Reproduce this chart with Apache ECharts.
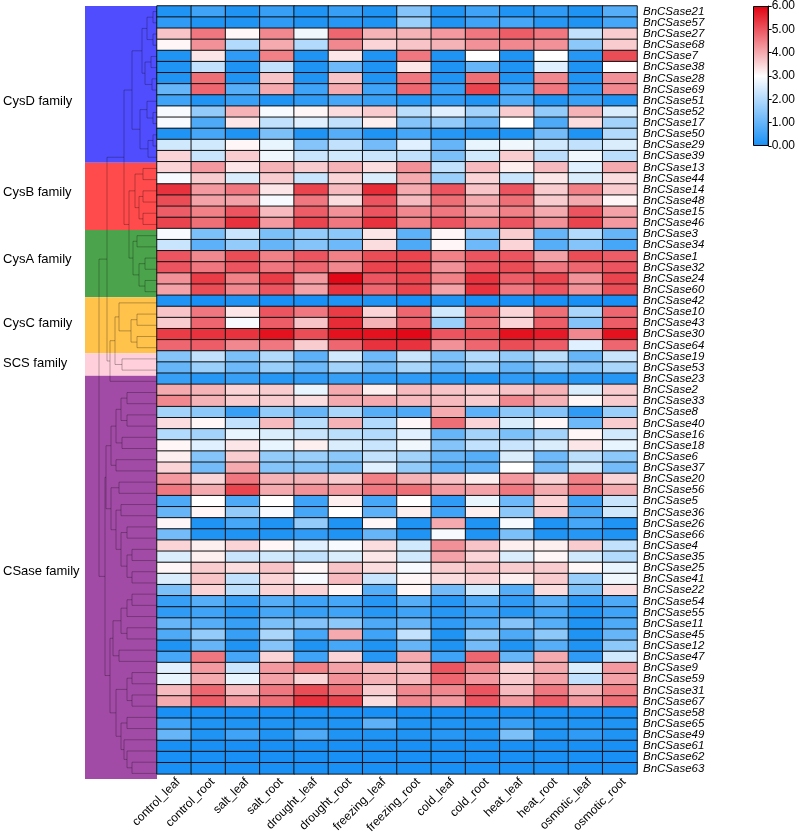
<!DOCTYPE html>
<html>
<head>
<meta charset="utf-8">
<script src="https://cdn.jsdelivr.net/npm/echarts@6/dist/echarts.min.js"></script>
<style>
  html, body { margin: 0; padding: 0; background: #fff; }
  #chart { width: 798px; height: 836px; }
</style>
</head>
<body>
<div id="chart"></div>
<script>
const conditions = [
  "control_leaf", "control_root", "salt_leaf", "salt_root", "drought_leaf", "drought_root",
  "freezing_leaf", "freezing_root", "cold_leaf", "cold_root", "heat_leaf", "heat_root",
  "osmotic_leaf", "osmotic_root"
];

// one row per gene, columns follow `conditions`
const cysDGenes = ["BnCSase21", "BnCSase57", "BnCSase27", "BnCSase68", "BnCSase7", "BnCSase38", "BnCSase28",
  "BnCSase69", "BnCSase51", "BnCSase52", "BnCSase17", "BnCSase50", "BnCSase29", "BnCSase39"];
const cysDValues = [
  [0.1, 0.5, 0.1, 0.4, 0.1, 0.4, 0.1, 1.4, 0.1, 0.5, 0.1, 0.3, 0.1, 0.8],
  [0.3, 0.1, 0.1, 0.3, 0.1, 0.2, 0.1, 1.7, 0.1, 0.5, 0.6, 0.2, 0.1, 0.6],
  [3.7, 4.6, 3.1, 4.4, 2.8, 4.8, 3.9, 3.9, 4.2, 4.6, 4.9, 4.6, 2.2, 3.6],
  [3.1, 4.3, 2.0, 4.0, 2.0, 4.4, 3.5, 3.7, 3.9, 4.3, 4.4, 4.3, 1.5, 3.6],
  [0.1, 3.3, 0.3, 4.5, 0.1, 3.3, 0.1, 4.6, 0.1, 3.0, 0.1, 3.0, 0.2, 5.1],
  [0.1, 2.2, 0.1, 2.2, 0.1, 1.1, 0.1, 3.3, 0.1, 1.0, 0.1, 2.6, 0.1, 3.0],
  [0.1, 4.7, 0.1, 3.7, 0.1, 3.7, 0.1, 4.6, 0.1, 4.7, 0.1, 4.4, 0.1, 4.3],
  [1.0, 4.8, 0.8, 4.0, 0.5, 4.0, 0.5, 4.8, 0.4, 5.2, 0.6, 4.6, 0.3, 4.4],
  [0.5, 0.1, 0.4, 0.1, 0.3, 0.6, 0.4, 0.2, 0.3, 0.1, 0.7, 0.1, 0.4, 0.1],
  [2.9, 1.6, 3.9, 2.9, 3.1, 3.4, 3.6, 2.1, 2.6, 1.8, 3.6, 1.6, 3.9, 2.5],
  [2.9, 0.7, 3.3, 2.2, 2.6, 2.2, 3.2, 1.4, 1.6, 1.0, 3.0, 0.7, 3.4, 1.8],
  [0.1, 0.6, 0.1, 1.3, 0.1, 0.8, 0.1, 0.6, 0.2, 0.1, 0.1, 1.2, 0.1, 2.0],
  [2.4, 2.4, 3.1, 2.7, 1.4, 2.2, 1.2, 2.6, 1.0, 2.7, 2.8, 2.4, 2.2, 2.5],
  [3.5, 2.3, 3.6, 2.8, 2.3, 2.4, 2.3, 2.2, 1.3, 2.4, 3.6, 2.1, 2.8, 2.1]
];

const cysBGenes = ["BnCSase13", "BnCSase44", "BnCSase14", "BnCSase48", "BnCSase15", "BnCSase46"];
const cysBValues = [
  [3.5, 4.2, 3.3, 3.9, 3.6, 3.9, 3.4, 4.3, 2.2, 3.8, 3.2, 3.8, 2.6, 4.0],
  [2.9, 3.6, 2.5, 3.6, 2.3, 3.5, 2.5, 4.0, 1.7, 3.5, 2.3, 3.3, 2.5, 3.4],
  [5.4, 4.2, 4.6, 3.3, 5.2, 3.8, 5.5, 4.0, 5.0, 3.7, 5.0, 3.6, 4.5, 3.6],
  [5.1, 4.1, 4.1, 2.9, 4.6, 3.4, 5.0, 3.8, 4.7, 4.0, 4.7, 3.6, 4.0, 3.1],
  [4.9, 4.5, 5.0, 3.8, 4.9, 4.3, 5.0, 4.4, 4.6, 4.1, 4.5, 4.0, 5.0, 4.1],
  [5.2, 4.7, 5.4, 4.2, 5.2, 4.6, 5.4, 4.5, 5.0, 4.5, 5.0, 4.3, 5.2, 4.2]
];

const cysAGenes = ["BnCSase3", "BnCSase34", "BnCSase1", "BnCSase32", "BnCSase24", "BnCSase60"];
const cysAValues = [
  [2.9, 1.3, 2.3, 1.3, 1.6, 1.5, 3.3, 0.9, 3.1, 1.5, 3.6, 1.0, 2.0, 1.0],
  [2.3, 0.9, 1.6, 1.0, 1.4, 1.1, 3.4, 0.7, 3.1, 1.1, 3.5, 0.8, 1.4, 0.6],
  [5.0, 4.4, 5.1, 4.5, 5.0, 4.5, 5.1, 5.2, 4.5, 5.0, 5.0, 4.1, 5.1, 4.9],
  [5.0, 4.6, 5.0, 4.6, 4.8, 4.4, 5.2, 5.2, 4.3, 5.0, 5.1, 4.6, 4.8, 5.0],
  [4.3, 5.3, 4.5, 5.3, 4.2, 5.9, 5.0, 5.2, 4.5, 5.4, 4.9, 5.2, 4.3, 5.2],
  [4.1, 5.1, 4.4, 5.0, 4.1, 5.4, 4.8, 5.2, 4.1, 5.4, 4.6, 5.0, 4.3, 5.1]
];

const cysCGenes = ["BnCSase42", "BnCSase10", "BnCSase43", "BnCSase30", "BnCSase64"];
const cysCValues = [
  [0.1, 0.0, 0.1, 0.0, 0.0, 0.1, 0.1, 0.0, 0.1, 0.0, 0.0, 0.0, 0.0, 0.0],
  [3.7, 4.6, 3.3, 5.0, 4.6, 5.3, 3.5, 4.8, 2.4, 4.7, 3.5, 4.7, 1.9, 4.8],
  [3.6, 4.8, 2.9, 4.9, 3.7, 5.5, 3.9, 4.9, 1.7, 4.7, 3.5, 4.9, 1.4, 4.9],
  [5.3, 5.4, 5.4, 5.8, 5.1, 5.8, 5.8, 5.9, 5.0, 5.1, 5.8, 5.7, 4.4, 5.8],
  [4.8, 4.9, 4.4, 4.6, 3.6, 4.8, 5.4, 5.4, 4.3, 4.8, 5.1, 4.9, 2.6, 4.8]
];

const scsGenes = ["BnCSase19", "BnCSase53"];
const scsValues = [
  [1.4, 2.2, 1.3, 2.0, 0.9, 2.4, 1.1, 2.3, 1.3, 2.0, 1.6, 2.1, 1.0, 2.3],
  [1.0, 1.7, 1.1, 1.7, 1.1, 1.8, 1.2, 1.9, 1.1, 1.7, 1.0, 1.6, 1.5, 1.9]
];

const csaseGenes = ["BnCSase23", "BnCSase2", "BnCSase33", "BnCSase8", "BnCSase40", "BnCSase16", "BnCSase18",
  "BnCSase6", "BnCSase37", "BnCSase20", "BnCSase56", "BnCSase5", "BnCSase36", "BnCSase26", "BnCSase66",
  "BnCSase4", "BnCSase35", "BnCSase25", "BnCSase41", "BnCSase22", "BnCSase54", "BnCSase55", "BnCSase11",
  "BnCSase45", "BnCSase12", "BnCSase47", "BnCSase9", "BnCSase59", "BnCSase31", "BnCSase67", "BnCSase58",
  "BnCSase65", "BnCSase49", "BnCSase61", "BnCSase62", "BnCSase63"];
const csaseValues = [
  [0.4, 0.2, 0.4, 0.2, 0.3, 0.4, 0.3, 0.3, 0.2, 0.1, 0.3, 0.2, 0.2, 0.2],
  [4.0, 3.9, 3.5, 3.6, 2.7, 4.0, 3.2, 3.8, 3.7, 3.6, 3.7, 3.9, 2.5, 3.6],
  [4.4, 3.9, 3.6, 3.6, 3.4, 4.0, 4.0, 3.8, 3.8, 3.6, 4.4, 3.9, 3.1, 3.6],
  [1.8, 1.5, 0.4, 1.6, 1.0, 1.9, 0.8, 0.7, 4.0, 0.9, 1.5, 1.4, 0.3, 1.7],
  [3.4, 3.1, 2.2, 3.8, 2.1, 3.9, 2.0, 3.1, 4.7, 3.5, 2.5, 3.1, 1.1, 3.6],
  [2.0, 1.8, 2.7, 2.5, 2.3, 2.1, 2.0, 2.6, 1.0, 1.8, 1.3, 1.8, 3.1, 2.4],
  [3.1, 2.6, 3.3, 2.7, 3.2, 2.5, 2.3, 2.8, 1.4, 2.2, 2.3, 2.5, 3.3, 2.7],
  [3.2, 1.4, 3.6, 1.6, 1.7, 1.5, 2.2, 1.8, 1.0, 0.8, 2.5, 1.1, 2.1, 1.5],
  [3.5, 1.2, 4.0, 1.4, 1.4, 1.3, 2.6, 1.6, 0.8, 0.9, 3.0, 1.2, 2.4, 1.2],
  [4.2, 3.5, 4.6, 3.9, 3.9, 3.6, 4.5, 3.9, 3.7, 3.2, 4.2, 3.5, 4.5, 3.5],
  [4.6, 4.0, 5.2, 4.0, 4.3, 4.2, 4.6, 4.7, 4.2, 4.1, 4.6, 4.0, 4.6, 4.0],
  [0.7, 3.0, 0.7, 3.0, 0.5, 3.2, 0.6, 3.0, 0.3, 2.7, 1.1, 3.5, 0.5, 2.3],
  [1.0, 3.1, 1.6, 2.9, 0.6, 3.0, 0.9, 3.2, 0.5, 3.2, 1.5, 3.6, 0.7, 2.4],
  [3.1, 0.1, 0.6, 0.1, 1.6, 0.1, 3.1, 0.1, 4.0, 0.1, 2.9, 0.1, 0.6, 0.1],
  [1.2, 0.1, 0.1, 0.1, 0.3, 0.1, 1.0, 0.1, 2.9, 0.1, 1.3, 0.1, 0.2, 0.1],
  [3.5, 3.2, 3.5, 3.1, 2.6, 2.9, 3.4, 2.4, 4.3, 3.7, 3.2, 3.2, 3.6, 2.2],
  [2.5, 3.2, 2.3, 2.4, 2.2, 2.5, 3.3, 2.4, 4.1, 3.5, 2.5, 3.1, 2.4, 2.0],
  [3.1, 3.6, 3.4, 3.7, 3.1, 3.7, 3.4, 2.9, 3.6, 3.7, 3.6, 3.6, 3.1, 2.7],
  [2.5, 3.7, 2.2, 3.5, 2.9, 3.8, 2.3, 3.1, 3.4, 3.5, 3.2, 3.6, 1.7, 2.8],
  [1.3, 3.5, 2.1, 3.5, 3.5, 3.1, 0.8, 3.1, 1.2, 2.4, 0.8, 3.4, 1.3, 3.4],
  [0.4, 0.8, 0.4, 0.8, 0.5, 0.6, 0.2, 0.8, 0.2, 0.7, 0.3, 0.8, 0.2, 0.7],
  [0.3, 0.5, 0.2, 0.6, 0.4, 0.5, 0.2, 0.5, 0.2, 0.5, 0.2, 0.6, 0.1, 0.5],
  [1.0, 0.8, 0.4, 1.3, 1.4, 1.5, 0.7, 1.0, 0.3, 0.8, 1.4, 0.8, 0.1, 0.7],
  [0.7, 1.6, 0.4, 1.9, 0.6, 4.0, 0.5, 2.2, 0.1, 1.5, 0.7, 1.5, 0.1, 1.0],
  [0.1, 1.0, 0.1, 1.4, 0.1, 0.6, 0.1, 1.0, 0.1, 1.2, 0.1, 0.8, 0.1, 1.5],
  [0.6, 4.6, 0.6, 3.5, 0.5, 3.5, 0.2, 4.0, 0.5, 4.8, 1.0, 4.0, 0.3, 2.4],
  [2.6, 4.2, 2.3, 4.2, 4.5, 4.1, 3.8, 3.8, 5.0, 4.4, 3.5, 4.0, 2.5, 4.2],
  [2.7, 4.0, 2.7, 4.1, 3.5, 4.3, 3.9, 3.8, 4.8, 4.2, 3.6, 4.1, 2.2, 4.1],
  [3.8, 4.8, 3.8, 4.6, 5.1, 4.7, 3.6, 4.4, 4.4, 5.0, 3.8, 4.6, 3.9, 4.5],
  [4.0, 4.9, 4.2, 4.7, 5.4, 5.2, 3.4, 4.4, 4.2, 5.0, 4.2, 4.9, 4.2, 4.7],
  [0.0, 0.0, 0.0, 0.0, 0.0, 0.0, 0.0, 0.0, 0.0, 0.0, 0.0, 0.0, 0.0, 0.0],
  [0.5, 0.1, 0.1, 0.1, 0.1, 0.1, 0.9, 0.1, 0.1, 0.1, 0.4, 0.1, 0.1, 0.1],
  [1.0, 0.1, 0.5, 0.1, 0.7, 0.1, 0.1, 0.1, 0.2, 0.1, 1.3, 0.1, 0.3, 0.1],
  [0.0, 0.0, 0.0, 0.0, 0.0, 0.0, 0.0, 0.0, 0.0, 0.0, 0.0, 0.0, 0.0, 0.0],
  [0.0, 0.0, 0.0, 0.0, 0.0, 0.0, 0.0, 0.0, 0.0, 0.0, 0.0, 0.0, 0.0, 0.0],
  [0.0, 0.0, 0.0, 0.0, 0.0, 0.0, 0.0, 0.0, 0.0, 0.0, 0.0, 0.0, 0.0, 0.0]
];

const familyNames = ["CysD family", "CysB family", "CysA family", "CysC family", "SCS family", "CSase family"];
const familyGenes = [cysDGenes, cysBGenes, cysAGenes, cysCGenes, scsGenes, csaseGenes];
const familyValues = [cysDValues, cysBValues, cysAValues, cysCValues, scsValues, csaseValues];
const familyColors = ["#504dff", "#ff4b4b", "#4ba34b", "#ffc24b", "#ffd0dc", "#a24ba6"];
const familyLabelNudge = [17, -4, -4, -2, -1, -6]; // vertical label offsets, px

// clustering tree, [height, left, right]; leaves are row numbers (top = 0)
const cysDTree = [25, [15, [10, [4, 0, 1], [4, 2, 3]], [12, [6, 4, 5], [5, 6, 7]]],
  [17, [10, 8, [4, 9, 10]], [9, [4, 11, 12], 13]]];
const cysBTree = [22, [14, 14, 15], [18, [14, 16, 17], [14, 18, 19]]];
const cysATree = [24, [20, 20, 21], [18, [12, 22, 23], [12, 24, 25]]];
const cysCTree = [38, 26, [26, [20, 27, 28], [20, 29, 30]]];
const scsTree = [35, 31, 32];
const csaseTreeA = [51,
  [46, [41, [36, [30, 34, 35], [30, 36, 37]], [35, 38, 39]], [41, 40, 41]],
  [46, [38, 42, 43], [41, [36, 44, 45], [36, [30, 46, 47], [30, [25, 48, 49], [25, 50, 51]]]]]];
const csaseTreeB = [47,
  [44, [36, [30, [25, 52, 53], 54], [30, 55, 56]], [38, 57, 58]],
  [41, [30, [25, 59, 60], [25, 61, 62]], [36, [30, 63, 64], [33, 65, [30, 66, [25, 67, 68]]]]]];
const fullTree = [58,
  [50, [33, cysDTree, [28, cysBTree, cysATree]], [47, [42, cysCTree, scsTree], 33]],
  [52, csaseTreeA, csaseTreeB]];

const legendTicks = [0, 1, 2, 3, 4, 5, 6];
const palette = ["#1890f5", "#ffffff", "#e2000f"];

// ---- build series data ----
const genes = [].concat(...familyGenes);
const rows = [].concat(...familyValues);
const heatData = [];
rows.forEach((row, r) => row.forEach((v, c) => heatData.push([c, r, v])));

const bands = [];
let start = 0;
familyGenes.forEach((g, i) => {
  bands.push([
    {
      name: familyNames[i], yAxis: start - 0.5,
      itemStyle: { color: familyColors[i] },
      label: { offset: [-87, familyLabelNudge[i]] }
    },
    { yAxis: start + g.length - 0.5 }
  ]);
  start += g.length;
});

const dendroLines = [];
function walk(node) {
  if (typeof node === "number") return { h: 0, p: node };
  const a = walk(node[1]);
  const b = walk(node[2]);
  dendroLines.push({ coords: [[a.h, a.p], [node[0], a.p], [node[0], b.p], [b.h, b.p]] });
  return { h: node[0], p: (a.p + b.p) / 2 };
}
walk(fullTree);

const font = "Liberation Sans, Arial, sans-serif";
const chart = echarts.init(document.getElementById("chart"));

const option = {
  animation: false,
  backgroundColor: "#fff",
  textStyle: { fontFamily: font },
  grid: [
    { left: 157, top: 6, width: 480, height: 773 },
    { left: 85, top: 6, width: 72, height: 773 },
    { left: 753, top: 5, width: 20, height: 141 }
  ],
  xAxis: [
    {
      type: "category", gridIndex: 0, data: conditions,
      axisLine: { show: false }, axisTick: { show: false }, splitLine: { show: false },
      axisLabel: {
        rotate: 45, interval: 0, fontSize: 12, color: "#000", margin: 2,
        verticalAlign: "top", fontFamily: font
      }
    },
    { type: "value", gridIndex: 1, min: 0, max: 72, inverse: true, show: false },
    { type: "category", gridIndex: 2, data: ["scale"], show: false }
  ],
  yAxis: [
    {
      type: "category", gridIndex: 0, data: genes, inverse: true, position: "right",
      axisLine: { show: false }, axisTick: { show: false }, splitLine: { show: false },
      axisLabel: { interval: 0, fontSize: 11.5, fontStyle: "italic", color: "#000", margin: 6, fontFamily: font }
    },
    { type: "value", gridIndex: 1, min: -0.5, max: genes.length - 0.5, inverse: true, show: false },
    {
      type: "value", gridIndex: 2, min: legendTicks[0], max: legendTicks[legendTicks.length - 1], interval: 1,
      position: "right", splitLine: { show: false },
      axisLine: { show: true, lineStyle: { color: "#000", width: 1 } },
      axisTick: { show: true, length: 3, lineStyle: { color: "#000" } },
      axisLabel: { fontSize: 12, color: "#000", margin: 3, fontFamily: font, formatter: v => v.toFixed(2) }
    }
  ],
  visualMap: {
    type: "continuous", show: false, min: 0, max: 6, seriesIndex: 0,
    inRange: { color: palette }
  },
  series: [
    {
      type: "heatmap", xAxisIndex: 0, yAxisIndex: 0, data: heatData,
      itemStyle: { borderColor: "#111", borderWidth: 1 },
      emphasis: { disabled: true }
    },
    {
      type: "lines", coordinateSystem: "cartesian2d", xAxisIndex: 1, yAxisIndex: 1,
      polyline: true, silent: true, z: 3, data: dendroLines,
      lineStyle: { color: "rgba(0,0,0,0.28)", width: 1, opacity: 1 }
    },
    {
      type: "scatter", xAxisIndex: 1, yAxisIndex: 1, data: [], silent: true, z: 1,
      markArea: {
        silent: true,
        label: {
          show: true, position: "insideLeft", color: "#000",
          fontSize: 13, fontFamily: font
        },
        itemStyle: { opacity: 1 },
        data: bands
      }
    },
    {
      type: "bar", xAxisIndex: 2, yAxisIndex: 2, data: [legendTicks[legendTicks.length - 1]],
      barWidth: "100%", silent: true,
      itemStyle: {
        borderColor: "#000", borderWidth: 1,
        color: new echarts.graphic.LinearGradient(0, 1, 0, 0, palette.map((c, i) => ({
          offset: i / (palette.length - 1), color: c
        })))
      }
    }
  ]
};

chart.setOption(option);
</script>
</body>
</html>
